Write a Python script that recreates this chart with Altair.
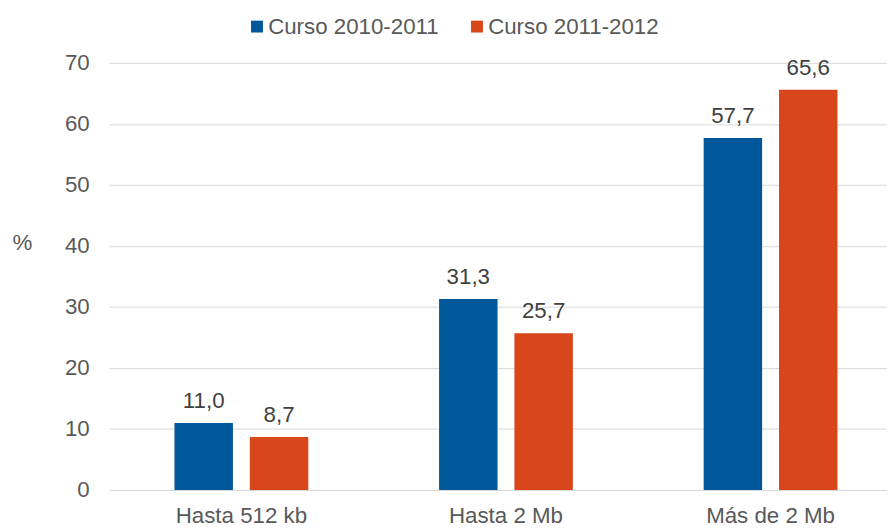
import altair as alt
import pandas as pd

categories = ["Hasta 512 kb", "Hasta 2 Mb", "Más de 2 Mb"]
series = ["Curso 2010-2011", "Curso 2011-2012"]
values_2010 = [11.0, 31.3, 57.7]
values_2011 = [8.7, 25.7, 65.6]
colors = ["#00589B", "#D9461B"]
y_ticks = [0, 10, 20, 30, 40, 50, 60, 70]

rows = []
for c, a, b in zip(categories, values_2010, values_2011):
    rows.append({"cat": c, "serie": series[0], "value": a})
    rows.append({"cat": c, "serie": series[1], "value": b})
df = pd.DataFrame(rows)

FONT = "Liberation Sans"
GRAY = "#595959"
FS = 22.5

x = alt.X(
    "cat:N",
    sort=categories,
    scale=alt.Scale(range=[0, 801], paddingInner=0, paddingOuter=0),
    axis=alt.Axis(title=None, labelAngle=0, ticks=False, domain=False, labelPadding=15,
                  labelFontSize=FS, labelColor=GRAY, labelFont=FONT, grid=False),
)
xo = alt.XOffset("serie:N", sort=series, scale=alt.Scale(paddingInner=0.224, paddingOuter=0.868))
y = alt.Y(
    "value:Q",
    scale=alt.Scale(domain=[0, 70]),
    axis=alt.Axis(values=y_ticks, title="%", titleAngle=0, titleX=-88, titleY=181,
                  titleAlign="center", titleBaseline="middle", titleFontSize=FS,
                  titleFontWeight="normal", titleColor=GRAY, titleFont=FONT,
                  ticks=False, domain=False, labelPadding=20, labelFontSize=FS,
                  labelColor=GRAY, labelFont=FONT, gridColor="#d9d9d9", gridWidth=1),
)
color = alt.Color(
    "serie:N",
    sort=series,
    scale=alt.Scale(domain=series, range=colors),
    legend=alt.Legend(title=None, orient="none", legendX=138, legendY=-48, direction="horizontal",
                      symbolType="square", symbolSize=144, symbolStrokeWidth=0,
                      labelFontSize=FS, labelColor=GRAY, labelFont=FONT, labelOffset=0,
                      labelLimit=400, columnPadding=27, padding=0),
)

bars = alt.Chart(df).mark_bar().encode(x=x, xOffset=xo, y=y, color=color)
texts = alt.Chart(df).transform_calculate(
    label="replace(format(datum.value, '.1f'), '.', ',')"
).mark_text(dy=-15, baseline="alphabetic", fontSize=FS, color="#404040", font=FONT).encode(
    x=x, xOffset=xo, y="value:Q", text="label:N"
)

chart = alt.layer(bars, texts).properties(
    width=785, height=431,
    autosize=alt.AutoSizeParams(type="none"),
    padding={"left": 102, "top": 53, "right": 0, "bottom": 40},
).configure_view(stroke=None)

chart.save("out.html", embed_options={"renderer": "svg", "actions": False})
